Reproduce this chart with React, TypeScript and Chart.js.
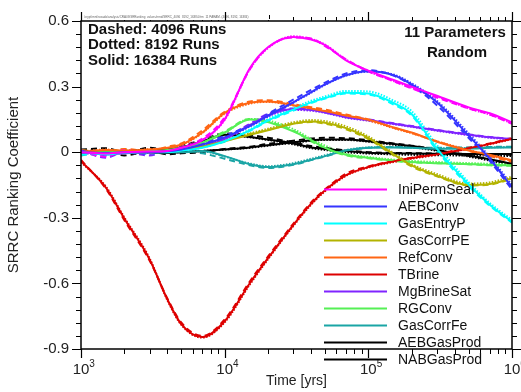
import React, { useEffect, useRef } from "react";
import { Chart, registerables } from "chart.js";
Chart.register(...registerables);

// ---------- data ----------
const times = [1000, 1500, 2000, 3000, 4000, 5000, 7000, 10000, 15000, 20000, 30000, 40000, 50000, 70000, 100000, 150000, 200000, 300000, 500000, 700000, 1000000];

const parameterNames = ["IniPermSeal", "AEBConv", "GasEntryP", "GasCorrPE", "RefConv", "TBrine", "MgBrineSat", "RGConv", "GasCorrFe", "AEBGasProd", "NABGasProd"];

// Solid: 16384 runs
const iniPermSealSolid = [0.0, -0.006, 0.0, 0.003, 0.006, 0.02, 0.055, 0.15, 0.385, 0.48, 0.527, 0.515, 0.49, 0.42, 0.373, 0.33, 0.30, 0.258, 0.205, 0.178, 0.137];
const aebConvSolid = [0.0, -0.004, 0.0, 0.0, 0.004, 0.012, 0.035, 0.068, 0.12, 0.167, 0.228, 0.275, 0.31, 0.352, 0.37, 0.352, 0.31, 0.228, 0.075, -0.03, -0.16];
const gasEntryPSolid = [0.0, -0.01, -0.002, 0.0, 0.0, 0.008, 0.02, 0.05, 0.1, 0.145, 0.195, 0.228, 0.248, 0.272, 0.268, 0.225, 0.175, 0.016, -0.148, -0.24, -0.318];
const gasCorrPESolid = [0.0, -0.005, 0.0, 0.0, 0.005, 0.01, 0.025, 0.05, 0.08, 0.1, 0.13, 0.14, 0.135, 0.11, 0.065, -0.01, -0.06, -0.107, -0.15, -0.145, -0.12];
const refConvSolid = [0.0, 0.01, 0.008, 0.012, 0.02, 0.035, 0.09, 0.18, 0.226, 0.232, 0.215, 0.2, 0.188, 0.168, 0.148, 0.113, 0.09, 0.048, 0.008, -0.012, -0.038];
const tBrineSolid = [-0.04, -0.165, -0.303, -0.49, -0.674, -0.787, -0.845, -0.773, -0.598, -0.485, -0.333, -0.235, -0.174, -0.105, -0.068, -0.042, -0.027, -0.01, 0.018, 0.038, 0.062];
const mgBrineSatSolid = [0.0, -0.01, -0.005, 0.0, 0.005, 0.01, 0.025, 0.06, 0.125, 0.168, 0.197, 0.193, 0.182, 0.16, 0.146, 0.13, 0.118, 0.1, 0.08, 0.068, 0.06];
const rgConvSolid = [0.0, 0.0, 0.005, 0.005, 0.01, 0.02, 0.045, 0.09, 0.15, 0.138, 0.095, 0.055, 0.02, -0.012, -0.025, -0.038, -0.045, -0.05, -0.055, -0.058, -0.06];
const gasCorrFeSolid = [0.0, 0.0, 0.005, 0.0, 0.0, 0.0, 0.005, -0.018, -0.055, -0.068, -0.055, -0.035, -0.018, 0.008, 0.02, 0.022, 0.02, 0.016, 0.017, 0.02, 0.022];
const aebGasProdSolid = [0.0, 0.005, 0.005, 0.01, 0.012, 0.022, 0.05, 0.08, 0.07, 0.058, 0.04, 0.022, 0.015, 0.005, -0.002, -0.005, -0.006, -0.007, -0.008, -0.008, -0.008];
const nabGasProdSolid = [0.0, -0.005, -0.004, 0.0, -0.004, 0.0, 0.005, 0.012, 0.022, 0.032, 0.045, 0.055, 0.058, 0.058, 0.05, 0.037, 0.028, 0.01, -0.015, -0.032, -0.053];

// Dashed: 4096 runs
const iniPermSealDashed = [0.005, -0.02, 0.01, -0.005, 0.012, 0.025, 0.062, 0.16, 0.38, 0.478, 0.525, 0.52, 0.485, 0.425, 0.37, 0.325, 0.292, 0.25, 0.2, 0.172, 0.13];
const aebConvDashed = [0.008, -0.015, 0.005, -0.008, 0.01, 0.01, 0.04, 0.075, 0.125, 0.175, 0.24, 0.285, 0.318, 0.36, 0.375, 0.35, 0.305, 0.215, 0.065, -0.04, -0.17];
const gasEntryPDashed = [-0.012, -0.005, 0.005, -0.006, 0.004, 0.004, 0.024, 0.048, 0.098, 0.142, 0.19, 0.225, 0.245, 0.268, 0.264, 0.218, 0.168, 0.008, -0.155, -0.245, -0.322];
const gasCorrPEDashed = [0.004, -0.01, 0.006, -0.004, 0.008, 0.006, 0.03, 0.055, 0.083, 0.102, 0.13, 0.138, 0.13, 0.105, 0.06, -0.015, -0.065, -0.11, -0.152, -0.148, -0.122];
const refConvDashed = [0.01, 0.0, 0.015, 0.005, 0.025, 0.04, 0.1, 0.185, 0.232, 0.238, 0.22, 0.206, 0.195, 0.172, 0.15, 0.112, 0.088, 0.05, 0.006, -0.018, -0.045];
const tBrineDashed = [-0.035, -0.17, -0.31, -0.495, -0.67, -0.78, -0.84, -0.765, -0.59, -0.478, -0.328, -0.23, -0.17, -0.098, -0.065, -0.04, -0.025, -0.008, 0.02, 0.04, 0.065];
const mgBrineSatDashed = [0.005, -0.025, 0.0, -0.015, 0.008, 0.015, 0.03, 0.065, 0.13, 0.175, 0.2, 0.196, 0.185, 0.165, 0.15, 0.132, 0.12, 0.102, 0.082, 0.07, 0.06];
const rgConvDashed = [0.008, 0.004, 0.012, 0.0, 0.015, 0.025, 0.05, 0.095, 0.152, 0.14, 0.098, 0.05, 0.018, -0.015, -0.028, -0.04, -0.046, -0.05, -0.055, -0.06, -0.062];
const gasCorrFeDashed = [-0.015, 0.005, 0.0, 0.008, -0.005, 0.004, -0.005, -0.03, -0.06, -0.072, -0.058, -0.036, -0.02, 0.006, 0.02, 0.024, 0.022, 0.02, 0.022, 0.024, 0.025];
const aebGasProdDashed = [0.012, 0.018, 0.0, 0.02, 0.008, 0.028, 0.056, 0.086, 0.078, 0.066, 0.045, 0.028, 0.02, 0.008, 0.0, -0.003, -0.004, -0.006, -0.008, -0.01, -0.012];
const nabGasProdDashed = [-0.008, 0.0, -0.015, 0.005, -0.01, -0.005, 0.0, 0.015, 0.025, 0.038, 0.052, 0.063, 0.066, 0.064, 0.055, 0.04, 0.03, 0.012, -0.016, -0.034, -0.055];

// Dotted: 8192 runs
const iniPermSealDotted = [-0.003, -0.008, 0.002, 0.004, 0.004, 0.018, 0.052, 0.148, 0.38, 0.476, 0.53, 0.518, 0.492, 0.423, 0.37, 0.325, 0.295, 0.255, 0.2, 0.172, 0.132];
const aebConvDotted = [-0.002, -0.006, 0.002, 0.002, 0.002, 0.01, 0.032, 0.066, 0.118, 0.162, 0.226, 0.272, 0.308, 0.35, 0.368, 0.355, 0.315, 0.235, 0.085, -0.022, -0.15];
const gasEntryPDotted = [-0.004, -0.01, 0.0, 0.002, 0.002, 0.006, 0.022, 0.052, 0.104, 0.15, 0.202, 0.235, 0.255, 0.28, 0.278, 0.236, 0.188, 0.032, -0.138, -0.232, -0.31];
const gasCorrPEDotted = [-0.002, -0.004, 0.002, 0.002, 0.004, 0.012, 0.028, 0.055, 0.086, 0.107, 0.137, 0.147, 0.142, 0.118, 0.072, -0.004, -0.055, -0.1, -0.143, -0.138, -0.112];
const refConvDotted = [0.004, 0.012, 0.006, 0.014, 0.018, 0.032, 0.088, 0.176, 0.222, 0.23, 0.214, 0.198, 0.186, 0.165, 0.145, 0.11, 0.087, 0.05, 0.01, -0.015, -0.04];
const tBrineDotted = [-0.045, -0.16, -0.298, -0.485, -0.678, -0.79, -0.848, -0.778, -0.604, -0.49, -0.338, -0.24, -0.178, -0.108, -0.07, -0.045, -0.03, -0.012, 0.016, 0.036, 0.06];
const mgBrineSatDotted = [-0.004, -0.008, -0.002, 0.002, 0.004, 0.012, 0.022, 0.058, 0.12, 0.165, 0.193, 0.19, 0.18, 0.158, 0.144, 0.128, 0.116, 0.098, 0.078, 0.066, 0.058];
const rgConvDotted = [-0.002, 0.002, 0.004, 0.008, 0.008, 0.018, 0.042, 0.088, 0.152, 0.145, 0.106, 0.06, 0.03, -0.008, -0.022, -0.034, -0.04, -0.045, -0.05, -0.053, -0.055];
const gasCorrFeDotted = [0.002, -0.002, 0.004, 0.002, 0.002, 0.002, 0.004, -0.02, -0.052, -0.064, -0.05, -0.03, -0.014, 0.01, 0.022, 0.024, 0.022, 0.018, 0.02, 0.022, 0.024];
const aebGasProdDotted = [0.0, 0.004, 0.006, 0.008, 0.01, 0.02, 0.048, 0.078, 0.068, 0.056, 0.036, 0.018, 0.01, 0.0, -0.006, -0.01, -0.012, -0.014, -0.015, -0.016, -0.018];
const nabGasProdDotted = [0.002, -0.004, -0.002, -0.002, -0.003, 0.002, 0.006, 0.012, 0.02, 0.03, 0.043, 0.052, 0.056, 0.056, 0.048, 0.034, 0.024, 0.006, -0.02, -0.038, -0.058];

const solidSeries = [iniPermSealSolid, aebConvSolid, gasEntryPSolid, gasCorrPESolid, refConvSolid, tBrineSolid, mgBrineSatSolid, rgConvSolid, gasCorrFeSolid, aebGasProdSolid, nabGasProdSolid];
const dashedSeries = [iniPermSealDashed, aebConvDashed, gasEntryPDashed, gasCorrPEDashed, refConvDashed, tBrineDashed, mgBrineSatDashed, rgConvDashed, gasCorrFeDashed, aebGasProdDashed, nabGasProdDashed];
const dottedSeries = [iniPermSealDotted, aebConvDotted, gasEntryPDotted, gasCorrPEDotted, refConvDotted, tBrineDotted, mgBrineSatDotted, rgConvDotted, gasCorrFeDotted, aebGasProdDotted, nabGasProdDotted];

const yTickValues = [-0.9, -0.6, -0.3, 0, 0.3, 0.6];
const xTickExponents = [3, 4, 5, 6];
const annotationLines = ["Dashed: 4096 Runs", "Dotted: 8192 Runs", "Solid: 16384 Runs"];
const cornerLines = ["11 Parameters", "Random"];
const xTitle = "Time [yrs]";
const yTitle = "SRRC Ranking Coefficient";
const fileLabel = "/crypt/mnt/rosado/analysis/CRA09/SRRanking_values/nrnd/SRRC_4096_8192_16384.frm  11 PARAM. (4096, 8192, 16384)";

// ---------- style ----------
const colors = ["#ff00ff", "#3535ff", "#00ffff", "#b3b300", "#ff6614", "#dd0000", "#8024ff", "#55f055", "#1aa5a5", "#000000", "#000000"];
const FONT = "'Liberation Sans', Arial, Helvetica, sans-serif";

export default function App() {
  const ref = useRef<HTMLCanvasElement>(null);

  useEffect(() => {
    document.body.style.margin = "0";
    const canvas = ref.current;
    if (!canvas) return;

    const datasets: any[] = [];
    const addSet = (arr: number[], color: string, dash: number[], width: number) => {
      datasets.push({
        data: times.map((t, i) => ({ x: t, y: arr[i] })),
        borderColor: color,
        borderWidth: width,
        borderDash: dash,
        pointRadius: 0,
        fill: false,
        cubicInterpolationMode: "monotone",
      });
    };
    for (let i = parameterNames.length - 1; i >= 0; i--) {
      addSet(dashedSeries[i], colors[i], [6, 4], 2);
      addSet(dottedSeries[i], colors[i], [1.5, 1.5], 2);
    }
    for (let i = parameterNames.length - 1; i >= 0; i--) {
      addSet(solidSeries[i], colors[i], [], 2);
    }
    datasets.reverse();

    const framePlugin = {
      id: "framePlugin",
      afterDraw(chart: any) {
        const ctx = chart.ctx as CanvasRenderingContext2D;
        const { left, right, top, bottom } = chart.chartArea;
        const xs = chart.scales.x;
        const ys = chart.scales.y;
        ctx.save();
        ctx.strokeStyle = "#000";
        ctx.lineWidth = 1;

        // minor ticks
        ctx.beginPath();
        for (let e = 3; e < 6; e++) {
          for (let m = 2; m <= 9; m++) {
            const px = Math.round(xs.getPixelForValue(m * Math.pow(10, e))) + 0.5;
            ctx.moveTo(px, bottom); ctx.lineTo(px, bottom + 5);
            ctx.moveTo(px, top); ctx.lineTo(px, top - 4);
          }
        }
        for (let k = 0; k <= 25; k++) {
          if (k % 5 === 0) continue;
          const v = -0.9 + 0.06 * k;
          const py = Math.round(ys.getPixelForValue(v)) + 0.5;
          ctx.moveTo(left, py); ctx.lineTo(left - 5, py);
          ctx.moveTo(right, py); ctx.lineTo(right + 5, py);
        }
        ctx.stroke();

        // file label box on top axis
        ctx.fillStyle = "#fff";
        ctx.fillRect(left + 2, top - 7, 187, 6);
        ctx.fillStyle = "#666";
        ctx.font = `3px ${FONT}`;
        ctx.textBaseline = "alphabetic";
        ctx.textAlign = "left";
        ctx.fillText(fileLabel, left + 3, top - 3, 184);
        ctx.beginPath();
        ctx.moveTo(left + 188.5, top - 6); ctx.lineTo(left + 188.5, top - 2);
        ctx.stroke();

        // major ticks
        ctx.lineWidth = 1.2;
        ctx.beginPath();
        xTickExponents.forEach((e) => {
          const px = Math.round(xs.getPixelForValue(Math.pow(10, e))) + 0.5;
          ctx.moveTo(px, bottom); ctx.lineTo(px, bottom + 9);
          ctx.moveTo(px, top); ctx.lineTo(px, top - 9);
        });
        yTickValues.forEach((v) => {
          const py = Math.round(ys.getPixelForValue(v)) + 0.5;
          ctx.moveTo(left, py); ctx.lineTo(left - 9, py);
          ctx.moveTo(right, py); ctx.lineTo(right + 9, py);
        });
        ctx.stroke();

        // frame
        ctx.lineWidth = 1.5;
        ctx.strokeRect(left, top, right - left, bottom - top);

        // x tick labels 10^n
        ctx.fillStyle = "#222";
        ctx.textBaseline = "alphabetic";
        xTickExponents.forEach((e) => {
          const px = xs.getPixelForValue(Math.pow(10, e));
          ctx.font = `15px ${FONT}`;
          const w = ctx.measureText("10").width;
          ctx.textAlign = "left";
          ctx.fillText("10", px - w / 2, 374);
          ctx.font = `10px ${FONT}`;
          ctx.fillText(String(e), px + w / 2, 367);
        });

        // legend
        ctx.font = `14px ${FONT}`;
        ctx.textBaseline = "middle";
        ctx.textAlign = "left";
        parameterNames.forEach((name, i) => {
          const y = 189.5 + 17 * i;
          ctx.strokeStyle = colors[i];
          ctx.lineWidth = 2;
          ctx.beginPath();
          ctx.moveTo(324, y); ctx.lineTo(387, y);
          ctx.stroke();
          ctx.fillStyle = "#111";
          ctx.fillText(name, 398, y + 0.5);
        });

        // annotations
        ctx.font = `bold 15px ${FONT}`;
        ctx.fillStyle = "#111";
        ctx.textBaseline = "alphabetic";
        ctx.textAlign = "left";
        annotationLines.forEach((t, i) => ctx.fillText(t, 88, 33.5 + 15.5 * i));
        ctx.textAlign = "center";
        ctx.fillText(cornerLines[0], 455, 36.5);
        ctx.fillText(cornerLines[1], 457, 56.5);
        ctx.restore();
      },
    };

    const chart = new Chart(canvas, {
      type: "line",
      data: { datasets },
      options: {
        animation: false,
        responsive: false,
        devicePixelRatio: 1,
        layout: { padding: { top: 18, right: 9, left: 0, bottom: 0 } },
        plugins: { legend: { display: false }, tooltip: { enabled: false } },
        scales: {
          x: {
            type: "logarithmic",
            min: 1000,
            max: 1000000,
            grid: { display: false, drawTicks: false },
            border: { display: false },
            ticks: { display: false },
            title: { display: true, text: xTitle, color: "#222", font: { family: FONT, size: 14 }, padding: { top: 0, bottom: 2 } },
            afterFit: (s: any) => { s.height = 43; },
          },
          y: {
            type: "linear",
            min: -0.9,
            max: 0.6,
            grid: { display: false, drawTicks: false },
            border: { display: false },
            ticks: {
              stepSize: 0.3,
              padding: 12,
              color: "#222",
              font: { family: FONT, size: 15 },
              callback: (v: any) => {
                const r = Math.round(Number(v) * 10) / 10;
                return r === 0 ? "0" : r.toFixed(1);
              },
            },
            title: { display: true, text: yTitle, color: "#222", font: { family: FONT, size: 15 }, padding: { top: 5, bottom: 0 } },
            afterFit: (s: any) => { s.width = 81; },
          },
        },
      },
      plugins: [framePlugin],
    } as any);

    return () => chart.destroy();
  }, []);

  return (
    <div style={{ width: 521, height: 392 }}>
      <canvas ref={ref} width={521} height={392} style={{ display: "block" }} />
    </div>
  );
}
